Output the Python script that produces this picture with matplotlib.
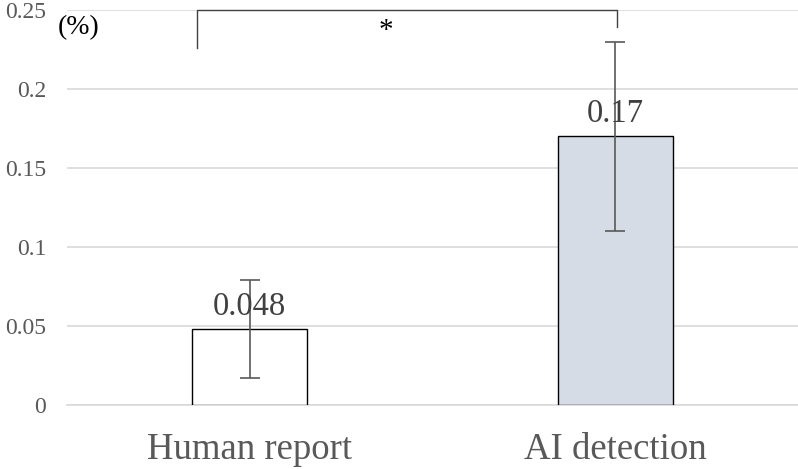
import matplotlib
matplotlib.use("Agg")
import matplotlib.pyplot as plt

categories = ["Human report", "AI detection"]
values = [0.048, 0.17]
errors = [0.031, 0.06]
labels = ["0.048", "0.17"]
yticks = [0, 0.05, 0.1, 0.15, 0.2, 0.25]
ytick_labels = ["0", "0.05", "0.1", "0.15", "0.2", "0.25"]
bracket_y = [0.226, 0.25, 0.25, 0.239]
sig_label = "*"

plt.rcParams['font.family'] = ['Liberation Serif', 'DejaVu Serif']

fig = plt.figure(figsize=(7.98, 4.69), dpi=100)
ax = fig.add_axes([67/798, 1-405/469, 1-67/798, (405-10)/469])

x = list(range(len(categories)))
colors = ["white", "#D6DCE5"]
ax.bar(x, values, width=0.315, color=colors, edgecolor="black", linewidth=1.0, zorder=3)
ax.errorbar(x, values, yerr=errors, fmt="none", ecolor="#595959", elinewidth=1.2,
            capsize=7, capthick=1.2, zorder=4)
for xi, v, lab in zip(x, values, labels):
    ax.annotate(lab, (xi, v), xytext=(0, 5), textcoords="offset points",
                ha="center", va="bottom", fontsize=23.5, color="#404040", zorder=5)

ax.set_xlim(-0.5, 1.5)
ax.set_ylim(0, 0.25)
ax.set_yticks(yticks)
ax.set_yticklabels(ytick_labels)
ax.set_xticks(x)
ax.set_xticklabels(categories)
ax.tick_params(axis="y", length=0, labelsize=17, labelcolor="#595959", pad=15)
ax.tick_params(axis="x", length=0, labelsize=26.5, labelcolor="#595959", pad=20)
ax.grid(axis="y", color="#D9D9D9", linewidth=1.2, zorder=0)
ax.set_axisbelow(True)
for s in ["top", "right", "left"]:
    ax.spines[s].set_visible(False)
ax.spines["bottom"].set_color("#D9D9D9")
ax.spines["bottom"].set_linewidth(1.2)

# significance bracket
bx = [x[0] - 0.143, x[0] - 0.143, x[1] + 0.005, x[1] + 0.005]
ax.plot(bx, bracket_y, color="#404040", linewidth=1.0, clip_on=False, zorder=6)
ax.text(0.373, 0.237, sig_label, ha="center", va="center",
        fontsize=21, color="black")

ax.text(-0.5 - 0.025, 0.239, "(%)", ha="left", va="center", fontsize=20,
        color="black", transform=ax.transData)

fig.savefig("out.png", dpi=100)
